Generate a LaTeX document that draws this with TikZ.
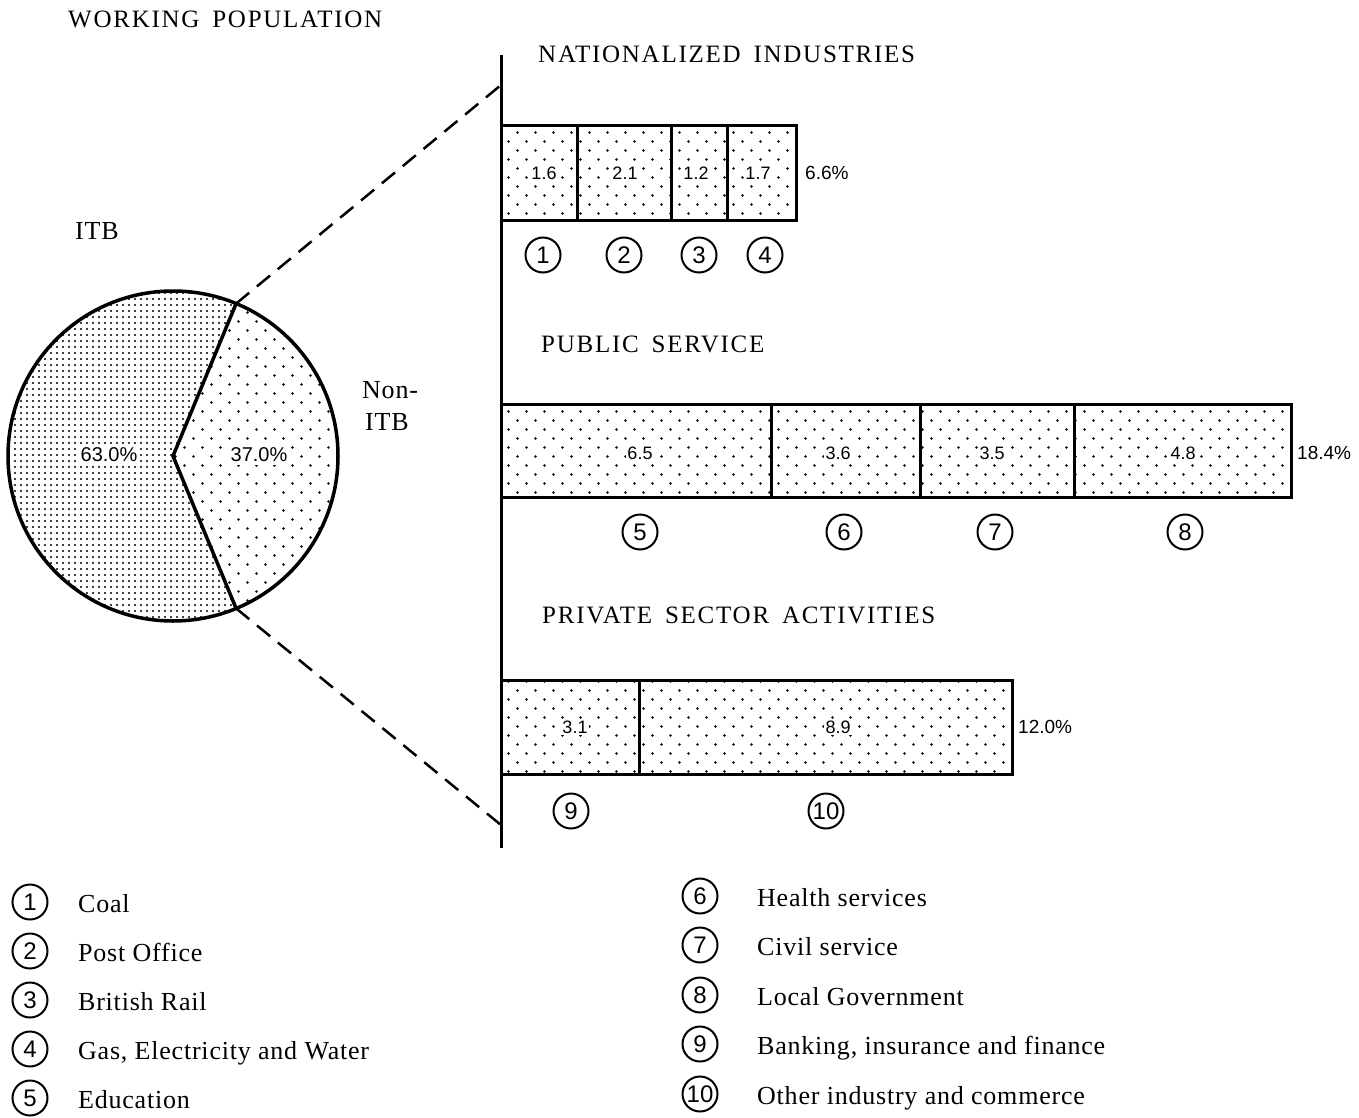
\documentclass[tikz,border=0pt]{standalone}
\usepackage{fontspec}
\setmainfont{Liberation Serif}
\setsansfont{Liberation Sans}
\newfontfamily\capsfont[LetterSpace=7,WordSpace=1.6]{Liberation Serif}
\newfontfamily\legfont[LetterSpace=3]{Liberation Serif}
\newfontfamily\numfont{Liberation Sans}
\usetikzlibrary{patterns}
\pgfdeclarepatternformonly{sparsedots}{\pgfqpoint{-1pt}{-1pt}}{\pgfqpoint{19pt}{19pt}}{\pgfqpoint{18pt}{18pt}}{%
  \pgfpathcircle{\pgfqpoint{4.5pt}{4.5pt}}{1.35pt}%
  \pgfpathcircle{\pgfqpoint{13.5pt}{13.5pt}}{1.35pt}%
  \pgfusepath{fill}}
\pgfdeclarepatternformonly{densedots}{\pgfqpoint{-1pt}{-1pt}}{\pgfqpoint{7pt}{7pt}}{\pgfqpoint{6pt}{6pt}}{%
  \pgfpathcircle{\pgfqpoint{3pt}{3pt}}{1.2pt}%
  \pgfusepath{fill}}
\tikzset{
  heading/.style={anchor=base west, inner sep=0pt, font=\capsfont\fontsize{25}{29}\selectfont},
  legtext/.style={anchor=base west, inner sep=0pt, font=\legfont\fontsize{26}{30}\selectfont},
  num/.style={circle, draw, line width=2pt, minimum size=35pt, inner sep=0pt, font=\numfont\fontsize{24}{24}\selectfont},
  val/.style={fill=white, inner sep=1.5pt, font=\numfont\fontsize{18}{18}\selectfont},
  pievalue/.style={fill=white, inner sep=3pt, font=\numfont\fontsize{20}{20}\selectfont},
  pct/.style={anchor=west, inner sep=0pt, font=\numfont\fontsize{19}{19}\selectfont},
  seg/.style={line width=3pt, pattern=sparsedots},
  dashline/.style={line width=2.5pt, dash pattern=on 17pt off 10pt},
}
\begin{document}
\begin{tikzpicture}[x=1pt,y=-1pt]
\useasboundingbox (0,0) rectangle (1359,1118);
\fill[white] (0,0) rectangle (1359,1118);

% title
\node[heading] (title) at (68,28) {WORKING POPULATION};

% pie
\coordinate (pc) at (173,456);
\coordinate (pa) at (236.1,303.6);
\coordinate (pb) at (236.1,608.4);
\fill[pattern=densedots] (pc) -- (pb) arc[start angle=67.5, end angle=292.5, radius=165] -- cycle;
\fill[pattern=sparsedots] (pc) -- (pa) arc[start angle=-67.5, end angle=67.5, radius=165] -- cycle;
\node[circle, draw, line width=3.5pt, minimum size=330pt, inner sep=0pt] (pie) at (pc) {};
\draw[line width=3.5pt, line join=miter] (pa) -- (pc) -- (pb);
\node[pievalue] (v63) at (109,455) {63.0\%};
\node[pievalue] (v37) at (259,455) {37.0\%};
\node[legtext] (itb) at (75,239) {ITB};
\node[legtext] (nonitb1) at (362,398) {Non-};
\node[legtext] (nonitb2) at (365,430) {ITB};

% axis and dashed connectors
\coordinate (axtop) at (501,55);
\coordinate (axbot) at (501,848);
\coordinate (axa) at (501,85);
\coordinate (axb) at (501,825);
\draw[dashline] (pa) -- (axa);
\draw[dashline] (pb) -- (axb);
\draw[line width=3pt] (axtop) -- (axbot);

% nationalized industries
\node[heading] (hnat) at (538,63) {NATIONALIZED INDUSTRIES};
\draw[seg] (501,126) rectangle (577,220);
\draw[seg] (577,126) rectangle (671,220);
\draw[seg] (671,126) rectangle (727,220);
\draw[seg] (727,126) rectangle (796,220);
\node[val] (n1) at (544,173) {1.6};
\node[val] (n2) at (625,173) {2.1};
\node[val] (n3) at (696,173) {1.2};
\node[val] (n4) at (758,173) {1.7};
\node[pct] (tn) at (805,173) {6.6\%};
\node[num] (c1) at (543,255) {1};
\node[num] (c2) at (624,255) {2};
\node[num] (c3) at (699,255) {3};
\node[num] (c4) at (765,255) {4};

% public service
\node[heading] (hpub) at (541,352) {PUBLIC SERVICE};
\draw[seg] (501,404) rectangle (771,497);
\draw[seg] (771,404) rectangle (920,497);
\draw[seg] (920,404) rectangle (1074,497);
\draw[seg] (1074,404) rectangle (1291,497);
\node[val] (p5) at (640,453) {6.5};
\node[val] (p6) at (838,453) {3.6};
\node[val] (p7) at (992,453) {3.5};
\node[val] (p8) at (1183,453) {4.8};
\node[pct] (tp) at (1297,453) {18.4\%};
\node[num] (c5) at (640,532) {5};
\node[num] (c6) at (844,532) {6};
\node[num] (c7) at (995,532) {7};
\node[num] (c8) at (1185,532) {8};

% private sector
\node[heading] (hpri) at (542,623) {PRIVATE SECTOR ACTIVITIES};
\draw[seg] (501,680) rectangle (639,774);
\draw[seg] (639,680) rectangle (1012,774);
\node[val] (s9) at (575,727) {3.1};
\node[val] (s10) at (838,727) {8.9};
\node[pct] (ts) at (1018,727) {12.0\%};
\node[num] (c9) at (571,811) {9};
\node[num] (c10) at (826,811) {10};

% legend left
\node[num] (l1) at (30,902) {1};
\node[legtext] (lt1) at (78,912) {Coal};
\node[num] (l2) at (30,951) {2};
\node[legtext] (lt2) at (78,961) {Post Office};
\node[num] (l3) at (30,1000) {3};
\node[legtext] (lt3) at (78,1010) {British Rail};
\node[num] (l4) at (30,1049) {4};
\node[legtext] (lt4) at (78,1059) {Gas, Electricity and Water};
\node[num] (l5) at (30,1098) {5};
\node[legtext] (lt5) at (78,1108) {Education};

% legend right
\node[num] (r6) at (700,896) {6};
\node[legtext] (rt6) at (757,906) {Health services};
\node[num] (r7) at (700,945) {7};
\node[legtext] (rt7) at (757,955) {Civil service};
\node[num] (r8) at (700,995) {8};
\node[legtext] (rt8) at (757,1005) {Local Government};
\node[num] (r9) at (700,1044) {9};
\node[legtext] (rt9) at (757,1054) {Banking, insurance and finance};
\node[num] (r10) at (700,1094) {10};
\node[legtext] (rt10) at (757,1104) {Other industry and commerce};
\end{tikzpicture}
\end{document}
